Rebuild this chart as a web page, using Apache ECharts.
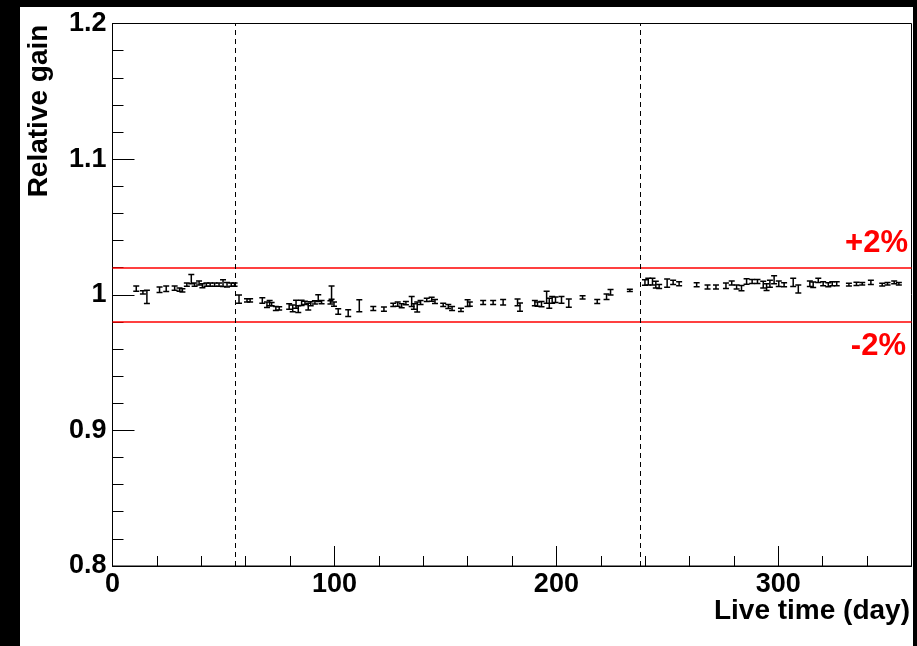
<!DOCTYPE html>
<html><head><meta charset="utf-8">
<script src="https://cdn.jsdelivr.net/npm/echarts/dist/echarts.min.js"></script>
<style>html,body{margin:0;padding:0;background:#000;width:917px;height:646px;overflow:hidden}
#c{position:absolute;left:20px;top:7px;width:893px;height:639px;background:#fff}</style>
</head><body><div id="c"></div><script>
// ---- data ----
const days = [10.7,13.7,15.5,21.2,24.2,28.0,30.2,31.5,33.5,35.5,37.0,39.0,40.5,42.3,44.0,46.0,48.0,49.8,51.6,53.5,55.0,
  57.0,60.6,62.0,67.5,69.6,70.8,71.7,73.6,75.1,79.6,81.2,82.7,83.7,85.2,86.7,88.2,89.3,91.2,92.7,94.2,98.2,98.7,99.8,101.7,106.2,111.2,117.5,122.3,126.5,128.5,130.3,132.2,134.8,135.8,137.3,138.8,141.6,143.8,145.3,149.0,151.3,153.0,157.0,160.0,161.0,167.0,171.5,176.0,182.5,183.6,190.3,191.5,193.3,195.6,196.8,198.1,199.6,202.3,205.6,211.8,218.4,222.6,224.4,233.1,
  239.9,241.4,243.3,244.8,246.3,249.9,252.6,255.3,263.2,268.1,271.9,276.4,279.0,281.2,283.4,285.7,288.2,290.6,293.2,294.7,296.2,298.1,300.2,302.6,306.7,309.0,314.2,315.7,318.0,320.2,322.5,324.3,326.3,331.8,335.2,337.8,341.7,346.8,349.2,352.2,354.3];
const gain = [1.0045,1.0018,0.9985,1.0037,1.0044,1.0049,1.0037,1.0032,1.0074,1.0116,1.0074,1.0086,1.0066,1.0074,1.0074,1.0074,1.0074,1.0086,1.0074,1.0074,1.0074,
  0.9968,0.9958,0.9958,0.9958,0.9926,0.9938,0.9931,0.9899,0.9899,0.9913,0.9899,0.9930,0.9894,0.9940,0.9940,0.9913,0.9933,0.9943,0.9975,0.9945,0.9943,1.0015,0.9931,0.9877,0.9865,0.9919,0.9899,0.9894,0.9926,0.9931,0.9919,0.9938,0.9950,0.9913,0.9909,0.9943,0.9962,0.9967,0.9950,0.9926,0.9913,0.9899,0.9889,0.9938,0.9931,0.9943,0.9943,0.9945,0.9943,0.9909,0.9938,0.9931,0.9931,0.9982,0.9938,0.9963,0.9963,0.9963,0.9938,0.9980,0.9950,0.9985,1.0018,1.0032,
  1.0090,1.0096,1.0096,1.0074,1.0061,1.0086,1.0091,1.0081,1.0074,1.0057,1.0057,1.0066,1.0086,1.0057,1.0049,1.0098,1.0098,1.0098,1.0074,1.0057,1.0081,1.0111,1.0081,1.0074,1.0091,1.0042,1.0081,1.0074,1.0106,1.0081,1.0074,1.0081,1.0081,1.0074,1.0081,1.0081,1.0091,1.0074,1.0081,1.0091,1.0081];
const gainErr = [0.0020,0.0012,0.0049,0.0020,0.0020,0.0015,0.0012,0.0012,0.0012,0.0034,0.0012,0.0015,0.0015,0.0012,0.0012,0.0012,0.0012,0.0025,0.0017,0.0012,0.0012,
  0.0030,0.0012,0.0012,0.0020,0.0020,0.0020,0.0012,0.0015,0.0012,0.0020,0.0025,0.0030,0.0025,0.0020,0.0012,0.0025,0.0015,0.0012,0.0025,0.0012,0.0012,0.0049,0.0015,0.0020,0.0025,0.0044,0.0015,0.0015,0.0012,0.0015,0.0015,0.0012,0.0037,0.0020,0.0037,0.0015,0.0012,0.0015,0.0015,0.0012,0.0015,0.0015,0.0012,0.0025,0.0015,0.0015,0.0015,0.0020,0.0025,0.0030,0.0020,0.0015,0.0020,0.0044,0.0037,0.0025,0.0020,0.0025,0.0030,0.0012,0.0015,0.0020,0.0020,0.0008,
  0.0020,0.0025,0.0025,0.0025,0.0015,0.0030,0.0015,0.0015,0.0015,0.0015,0.0015,0.0020,0.0015,0.0015,0.0020,0.0020,0.0015,0.0015,0.0025,0.0025,0.0025,0.0030,0.0020,0.0015,0.0030,0.0030,0.0020,0.0020,0.0015,0.0015,0.0015,0.0015,0.0015,0.0010,0.0012,0.0010,0.0015,0.0010,0.0010,0.0010,0.0010];
const bandLevels = [1.02, 0.98];
const bandLabels = ['+2%', '-2%'];
const dividerDays = [55.5, 237.7];
const xTicks = {min: 0, max: 360, major: 100, minor: 20};
const yTicks = {min: 0.8, max: 1.2, major: 0.1};
const xTitle = 'Live time (day)';
const yTitle = 'Relative gain';

// ---- chart ----
const FONT = '"Liberation Sans", Arial, Helvetica, sans-serif';
const chart = echarts.init(document.getElementById('c'), null, {renderer: 'canvas'});
const points = days.map((d, i) => [d, gain[i], gainErr[i]]);

function renderErr(params, api) {
  const x = api.value(0), y = api.value(1), e = api.value(2);
  const c = api.coord([x, y]);
  const hi = api.coord([x, y + e])[1];
  const lo = api.coord([x, y - e])[1];
  const w = 3;
  const st = {stroke: '#000', lineWidth: 1.5};
  return {type: 'group', children: [
    {type: 'line', shape: {x1: c[0], y1: hi, x2: c[0], y2: lo}, style: st},
    {type: 'line', shape: {x1: c[0] - w, y1: hi, x2: c[0] + w, y2: hi}, style: st},
    {type: 'line', shape: {x1: c[0] - w, y1: lo, x2: c[0] + w, y2: lo}, style: st}
  ]};
}

const markData = [
  ...bandLevels.map(v => ({yAxis: v, lineStyle: {color: '#ff0000', width: 1.5, type: 'solid'}})),
  ...dividerDays.map(v => ({xAxis: v, lineStyle: {color: '#000', width: 1, type: [5, 4]}}))
];

chart.setOption({
  animation: false,
  backgroundColor: '#fff',
  grid: {left: 92.5, right: 1.5, top: 16.5, bottom: 80, show: true, borderColor: '#000', borderWidth: 1, backgroundColor: 'transparent'},
  xAxis: [{
    type: 'value', min: xTicks.min, max: xTicks.max, interval: xTicks.major,
    axisLine: {show: true, onZero: false, lineStyle: {color: '#000', width: 1}},
    axisTick: {show: true, inside: true, length: 20, lineStyle: {color: '#000', width: 1}},
    minorTick: {show: false},
    splitLine: {show: false},
    axisLabel: {color: '#000', fontSize: 27, fontWeight: 'bold', fontFamily: FONT, margin: 5, showMaxLabel: false,
      formatter: v => (v % xTicks.major === 0 ? String(v) : '')}
  }, {
    type: 'value', min: xTicks.min, max: xTicks.max, interval: xTicks.minor, position: 'bottom',
    axisLine: {show: false}, splitLine: {show: false}, axisLabel: {show: false},
    axisTick: {show: true, inside: true, length: 10, lineStyle: {color: '#000', width: 1}}
  }],
  yAxis: {
    type: 'value', min: yTicks.min, max: yTicks.max, interval: yTicks.major,
    axisLine: {show: true, onZero: false, lineStyle: {color: '#000', width: 1}},
    axisTick: {show: true, inside: true, length: 22, lineStyle: {color: '#000', width: 1}},
    minorTick: {show: true, splitNumber: 5, length: 11, lineStyle: {color: '#000', width: 1}},
    splitLine: {show: false},
    axisLabel: {color: '#000', fontSize: 27, fontWeight: 'bold', fontFamily: FONT, margin: 6, padding: [5, 0, 0, 0],
      formatter: v => String(+v.toFixed(2))}
  },
  graphic: [
    {type: 'text', x: 19, y: 104, rotation: Math.PI / 2,
      style: {text: yTitle, fill: '#000', fontSize: 28, fontWeight: 'bold', fontFamily: FONT, align: 'center', verticalAlign: 'middle'}},
    {type: 'text', x: 890, y: 604,
      style: {text: xTitle, fill: '#000', fontSize: 28, fontWeight: 'bold', fontFamily: FONT, align: 'right', verticalAlign: 'middle'}},
    {type: 'text', x: 888, y: 236,
      style: {text: bandLabels[0], fill: '#ff0000', fontSize: 31, fontWeight: 'bold', fontFamily: FONT, align: 'right', verticalAlign: 'middle'}},
    {type: 'text', x: 886, y: 339,
      style: {text: bandLabels[1], fill: '#ff0000', fontSize: 31, fontWeight: 'bold', fontFamily: FONT, align: 'right', verticalAlign: 'middle'}}
  ],
  series: [{
    type: 'custom', xAxisIndex: 0, yAxisIndex: 0,
    renderItem: renderErr,
    encode: {x: 0, y: 1},
    data: points,
    clip: true,
    markLine: {symbol: 'none', silent: true, animation: false, label: {show: false}, data: markData}
  }]
});
</script></body></html>
